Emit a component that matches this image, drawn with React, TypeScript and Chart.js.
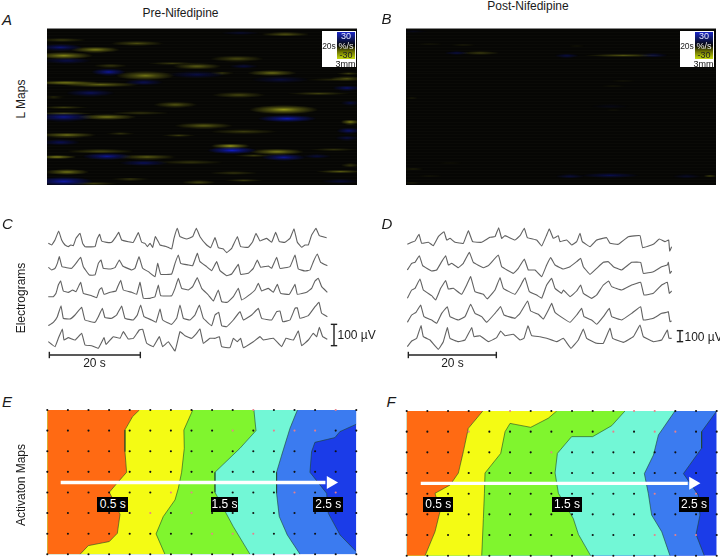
import React, { useEffect, useRef } from "react";
import { Chart, registerables } from "chart.js";

Chart.register(...registerables);

type Pair = [number, number];
// streak: centre position, half length, half height, amplitude (positive = lengthening, negative = shortening)
type Streak = [number, number, number, number, number];

const FONT = '"Liberation Sans", Arial, sans-serif';

/* ---------- L maps ---------- */
const mapAStreaks: Streak[] = [
  [855,104,50,4,.5],[185,121,50,4,.3],[410,131,55,5,.4],[285,150,50,6,.7],[190,168,60,7,.7],[710,177,55,6,.4],
  [590,200,50,6,.5],[515,191,50,3,.3],[330,198,35,4,.3],[815,220,50,6,.55],[435,228,60,10,.6],[665,220,25,3,.3],
  [195,249,70,4,.75],[300,255,80,5,.55],[1040,237,35,5,.4],[1000,240,60,3,.2],[1045,222,25,3,.3],[715,286,55,6,.35],
  [955,282,65,3,.35],[160,292,25,3,.2],[525,315,45,6,.45],[850,330,70,10,.8],[190,323,50,3,.3],[190,341,60,3,.4],
  [320,352,60,6,.6],[420,340,60,4,.25],[610,378,60,6,.5],[1050,367,20,5,.7],[730,396,70,5,.3],[200,406,60,5,.6],
  [360,402,30,3,.25],[535,407,35,3,.3],[690,439,40,5,.85],[300,455,70,4,.45],[830,456,55,6,.7],[1000,450,50,3,.25],
  [170,472,40,4,.7],[440,472,60,5,.5],[570,488,70,4,.3],[760,468,40,3,.3],[200,517,45,6,.6],[390,538,40,3,.3],
  [700,520,50,4,.25],[1020,516,50,3,.5],[1050,497,20,4,.3],[730,542,40,3,.3],[595,548,35,4,.4],[280,552,50,3,.3],
  [180,143,45,7,-.5],[325,217,35,8,-.7],[200,183,50,6,-.35],[590,225,60,8,-.3],[720,100,40,4,-.2],[430,248,40,6,-.4],
  [270,280,50,8,-.4],[840,240,60,8,-.25],[1040,265,30,5,-.5],[1050,310,20,5,-.3],[190,352,60,10,-.6],[860,357,60,8,-.8],
  [1045,393,25,6,-.5],[1040,415,25,5,-.3],[180,428,40,6,-.4],[695,452,50,7,-.95],[320,470,50,7,-.65],[850,473,45,8,-.65],
  [430,490,50,6,-.4],[190,545,60,10,-.75],[950,470,30,4,-.3],[1020,545,40,4,-.3],[730,200,30,4,-.3],
];
const mapBStreaks: Streak[] = [
  [330,160,40,4,.3],[280,135,30,2,.15],[760,167,80,3,.45],[180,133,30,2,.1],[760,245,30,2,.1],[730,258,30,2,.1],
  [125,295,15,2,.15],[130,508,25,2,.2],[1020,530,15,2,.5],[125,550,20,2,.15],[180,530,30,2,.1],[620,140,20,2,.1],
  [730,330,20,2,.08],[240,490,30,2,.08],
  [260,160,25,4,-.3],[590,168,25,4,-.35],[850,167,30,4,-.35],[720,527,60,5,-.35],[600,530,30,4,-.3],[950,530,30,4,-.2],
  [130,95,30,3,-.1],[720,320,40,4,-.1],
];

/* ---------- Electrograms (digitiser counts: 273 counts = 20 s, 64 counts = 100 uV) ---------- */
const traceC1: Pair[] = [[145,115],[155,120],[165,105],[176,78],[185,105],[195,120],[205,125],[212,120],[220,122],[228,100],[240,85],[248,115],[255,125],[285,125],[292,100],[299,88],[305,108],[320,112],[335,112],[348,95],[356,82],[365,105],[385,110],[400,112],[415,83],[425,112],[435,115],[442,125],[450,115],[458,127],[466,95],[475,110],[480,120],[500,125],[515,132],[522,100],[532,70],[540,95],[560,102],[578,95],[589,70],[600,95],[620,120],[632,128],[645,98],[655,128],[670,132],[680,143],[695,130],[712,95],[722,125],[745,127],[758,110],[768,85],[780,108],[800,100],[815,112],[827,82],[838,110],[855,112],[870,100],[882,72],[892,112],[905,127],[915,120],[925,120],[935,90],[948,70],[958,92],[980,98]];
const traceC2: Pair[] = [[145,187],[155,195],[165,190],[172,175],[178,155],[186,185],[215,190],[228,175],[242,157],[250,185],[268,210],[285,210],[295,175],[303,165],[310,190],[330,192],[345,188],[358,165],[368,183],[395,195],[405,190],[417,155],[428,190],[445,200],[465,215],[473,175],[482,208],[515,207],[525,175],[535,150],[542,175],[565,180],[578,182],[592,145],[600,170],[620,185],[635,197],[650,170],[660,197],[680,212],[695,207],[715,178],[722,208],[745,205],[760,190],[772,165],[782,187],[805,183],[815,190],[830,157],[840,190],[870,185],[885,150],[895,192],[915,198],[930,195],[940,170],[952,147],[962,172],[982,182]];
const traceC3: Pair[] = [[145,275],[160,275],[168,265],[175,240],[182,228],[190,258],[205,262],[218,255],[228,260],[242,232],[250,265],[275,272],[290,278],[298,255],[305,248],[312,268],[330,262],[348,258],[352,248],[362,226],[370,255],[395,262],[410,268],[420,232],[430,280],[450,280],[465,275],[475,240],[482,272],[515,272],[525,250],[535,220],[545,250],[565,255],[578,245],[592,218],[605,250],[625,270],[640,288],[655,255],[665,290],[682,292],[700,275],[715,250],[725,285],[745,272],[765,255],[775,235],[785,258],[805,250],[820,262],[832,238],[842,265],[868,268],[885,238],[892,268],[920,262],[935,250],[945,228],[955,220],[965,245],[982,262]];
const traceC4: Pair[] = [[145,362],[160,352],[172,335],[183,302],[190,340],[210,342],[225,330],[245,307],[255,345],[285,352],[295,335],[307,310],[315,338],[335,340],[350,330],[365,303],[375,340],[400,345],[412,330],[422,300],[432,335],[455,345],[468,352],[480,312],[488,345],[515,358],[530,340],[540,300],[550,340],[570,345],[585,330],[598,300],[610,340],[635,362],[645,330],[656,322],[665,362],[680,365],[700,345],[720,320],[730,345],[755,330],[775,310],[785,340],[815,345],[830,320],[840,318],[848,350],[870,345],[885,310],[892,308],[900,340],[925,332],[945,305],[957,292],[965,325],[982,335]];
const traceC5: Pair[] = [[145,410],[165,425],[175,400],[187,372],[192,405],[205,398],[225,405],[245,385],[255,420],[275,422],[295,430],[312,398],[318,418],[340,395],[360,400],[370,380],[385,402],[400,400],[418,375],[428,373],[440,415],[460,425],[478,395],[488,425],[505,410],[525,438],[540,380],[555,392],[575,400],[590,385],[600,372],[610,415],[630,400],[645,400],[658,395],[665,425],[690,428],[700,400],[712,410],[722,400],[730,428],[760,410],[780,395],[790,405],[820,400],[845,425],[858,400],[880,405],[895,378],[905,422],[925,405],[940,385],[950,395],[958,367],[968,395],[982,403]];
const traceD1: Pair[] = [[112,118],[125,112],[135,108],[147,88],[155,115],[175,112],[190,122],[205,95],[222,80],[230,105],[240,100],[255,112],[280,115],[295,77],[308,110],[335,112],[360,97],[375,95],[386,68],[395,100],[405,92],[435,105],[450,92],[463,70],[472,98],[500,105],[515,123],[530,90],[538,72],[550,100],[565,92],[570,110],[590,105],[605,120],[620,110],[630,85],[637,110],[660,125],[680,105],[710,98],[720,115],[745,118],[775,95],[810,92],[818,128],[850,118],[868,102],[885,110],[896,105],[899,138],[905,125]];
const traceD2: Pair[] = [[112,195],[125,175],[135,172],[148,152],[158,182],[185,198],[200,195],[215,170],[227,152],[235,180],[245,175],[265,188],[280,175],[298,142],[310,172],[340,188],[355,182],[385,150],[395,185],[430,205],[445,190],[463,162],[475,195],[495,195],[515,215],[530,180],[542,158],[555,180],[580,192],[600,185],[620,170],[632,160],[640,185],[660,208],[680,190],[700,172],[715,170],[730,185],[755,195],[785,172],[812,172],[820,205],[850,200],[875,185],[892,180],[895,172],[900,205],[905,198]];
const traceD3: Pair[] = [[112,280],[125,255],[135,250],[150,222],[160,255],[185,272],[197,285],[212,250],[227,227],[235,252],[250,250],[275,268],[290,240],[302,215],[315,260],[340,268],[352,282],[375,255],[390,218],[400,250],[435,268],[450,245],[465,218],[478,260],[500,270],[515,280],[530,240],[545,220],[555,250],[575,265],[580,255],[600,275],[620,258],[632,240],[640,265],[665,280],[680,270],[700,240],[716,228],[725,245],[755,255],[785,240],[812,232],[822,270],[850,265],[875,240],[892,232],[898,265],[905,258]];
const traceD4: Pair[] = [[112,352],[125,330],[138,322],[152,300],[162,335],[185,345],[200,355],[215,325],[232,305],[240,335],[265,345],[285,335],[302,298],[315,325],[335,335],[350,352],[375,325],[392,305],[402,330],[435,340],[450,325],[473,288],[482,318],[505,328],[520,342],[535,315],[545,295],[555,322],[580,340],[600,352],[620,330],[635,310],[642,335],[665,345],[680,358],[700,335],[718,310],[725,335],[755,345],[785,325],[812,305],[820,345],[850,340],[875,325],[890,322],[895,320],[900,350],[905,348]];
const traceD5: Pair[] = [[112,425],[125,408],[140,400],[153,362],[160,395],[180,405],[205,433],[220,410],[232,368],[240,400],[265,410],[285,405],[305,368],[312,395],[330,392],[355,410],[380,398],[392,378],[405,392],[430,388],[450,405],[462,400],[474,362],[485,392],[510,395],[530,400],[560,410],[580,400],[603,430],[625,405],[640,372],[650,400],[680,415],[700,415],[720,370],[728,400],[760,412],[790,395],[810,360],[820,395],[850,410],[875,405],[892,375],[897,400],[905,400]];
const timeBarC: Pair[] = [[148,450],[421,450]];
const voltBarC: Pair[] = [[1002,358],[1002,422]];
const timeBarD: Pair[] = [[115,450],[379,450]];
const voltBarD: Pair[] = [[930,377],[930,410]];

/* ---------- Activation maps: contour positions in electrode columns (0-15) and rows (0-7) ---------- */
const contourRowsE = [
  [0,.32,.97,2.02,3.02,3.57,3.99,4.52,5.06,5.98,6.38,6.58,7],
  [0,.97,1.86,3.02,3.8,4.36,5.17,6.01,7],
  [0,1.0,1.86,3.02,3.99,4.6,5.66,7],
  [0,.89,2.18,3.02,4.04,5.17,6.06,7],
  [.69,1.05,1.34,1.57,2.02,3.02,4.04,5.01,6.06,6.87],
];
const contourColsE = [
  [4.47,4.14,3.77,3.77,3.85,3.37,3.01,3.28,3.53,3.40,3.01,1.99,1.59],
  [7.06,6.63,6.65,6.52,6.36,6.2,5.63,5.28,5.71],
  [10.03,10.13,9.35,8.14,8.14,8.46,9.03,9.84],
  [12.14,11.78,11.38,11.13,11.13,11.26,11.65,12.27],
  [15,14.2,13.96,12.99,12.83,12.75,13.56,13.64,14.21,15],
];
const contourRowsF = [
  [0,.84,1.97,3.0,3.58,3.98,4.87,5.84,7],
  [0,.35,.79,.6,1.0,2.05,3.0,3.98,5.2,7],
  [0,.71,1.24,1.24,2.05,3,3.98,5.2,5.97,7],
  [0,1.16,2.13,3.03,3.98,5.03,5.84,7],
  [0,1.0,1.8,3.03,4.06,5.03,5.97,7],
];
const contourColsF = [
  [3.68,2.98,2.74,2.5,2.1,1.37,1.61,1.37,.89],
  [7.26,6.85,6.0,5.0,4.76,4.55,3.79,3.76,3.71,3.63],
  [10.56,9.92,9.0,7.98,7.29,7.18,7.34,8.06,8.31,8.9],
  [12.98,12.18,11.94,11.5,11.69,11.85,12.34,12.74],
  [15,14.27,14.27,13.39,14.11,14.19,14,14.4],
];
// leftmost isochrone band first
const bandColors = ["#ff6a13", "#f4fb14", "#80f52e", "#72f7d6", "#3b7bf0", "#1b3ce8"];
const pinkE: Pair[] = [[9,1],[11,1],[12,1],[13,1],[10,0],[14,0],[12,4],[14,4],[6,4],[7,4],[5,5],[7,5],[8,6],[9,6],[10,6]];
const pinkF: Pair[] = [[3,1],[10,1],[12,1],[13,1],[7,2],[12,6],[13,6],[14,6],[12,4],[14,4],[11,0],[12,0],[5,0]];
const arrowE: Pair[] = [[.65,3.52],[13.5,3.52]];
const arrowF: Pair[] = [[.68,3.5],[13.6,3.5]];
const headE: Pair = [13.75,3.52];
const headF: Pair = [13.85,3.5];

const toPts = (p: Pair[]) => p.map(([x, y]) => ({ x, y }));

/* ---------- Chart factories ---------- */
function baseOptions(xMin: number, xMax: number, yMin: number, yMax: number, padding: any = 0): any {
  return {
    responsive: false,
    maintainAspectRatio: false,
    animation: false,
    layout: { padding, autoPadding: false },
    plugins: { legend: { display: false }, tooltip: { enabled: false } },
    scales: {
      x: { type: "linear", min: xMin, max: xMax, display: false },
      y: { type: "linear", min: yMin, max: yMax, reverse: true, display: false },
    },
  };
}

function streakSprite(wPx: number, hPx: number, amp: number) {
  const c = document.createElement("canvas");
  c.width = Math.max(2, Math.round(wPx * 2));
  c.height = Math.max(2, Math.round(hPx * 2));
  const g = c.getContext("2d")!;
  g.translate(c.width / 2, c.height / 2);
  g.scale(c.width / 2, c.height / 2);
  const rgb = amp > 0 ? "175,178,32" : "18,30,205";
  const a = Math.min(1, Math.abs(amp) * 1.1);
  const grad = g.createRadialGradient(0, 0, 0, 0, 0, 1);
  grad.addColorStop(0, `rgba(${rgb},${a})`);
  grad.addColorStop(0.4, `rgba(${rgb},${a * 0.5})`);
  grad.addColorStop(1, `rgba(${rgb},0)`);
  g.fillStyle = grad;
  g.beginPath();
  g.arc(0, 0, 1, 0, Math.PI * 2);
  g.fill();
  return c;
}

function mapConfig(streaks: Streak[], xMin: number, xMax: number): any {
  const options = baseOptions(xMin, xMax, 88, 556);
  options.scales.y.display = true;
  options.scales.y.ticks = { display: false, stepSize: 9 };
  options.scales.y.border = { display: false };
  options.scales.y.grid = { color: "rgba(30,30,26,0.16)", lineWidth: 1, drawTicks: false };
  options.scales.y.afterFit = (s: any) => { s.width = 0; };
  return {
    type: "scatter",
    data: {
      datasets: [{
        data: streaks.map((s) => ({ x: s[0], y: s[1] })),
        pointRadius: 3,
        pointStyle: (ctx: any) => {
          const s = streaks[ctx.dataIndex];
          if (!s) return "circle";
          const sx = ctx.chart.scales.x, sy = ctx.chart.scales.y;
          const w = Math.abs(sx.getPixelForValue(s[0] + s[2]) - sx.getPixelForValue(s[0]));
          const h = Math.abs(sy.getPixelForValue(s[1] + s[3]) - sy.getPixelForValue(s[1]));
          return streakSprite(w * 1.5, h * 1.4, s[4]);
        },
      }],
    },
    options,
    plugins: [{
      id: "mapBg",
      beforeDraw(chart: any) {
        const { ctx, width, height } = chart;
        ctx.save();
        ctx.fillStyle = "#060604";
        ctx.fillRect(0, 0, width, height);
        ctx.restore();
      },
    }],
  };
}

function traceConfig(traces: Pair[][], timeBar: Pair[], voltBar: Pair[]): any {
  const bar = (data: Pair[], rotation: number) => ({
    data: toPts(data),
    borderColor: "#222",
    borderWidth: 1.4,
    pointStyle: "line",
    pointRotation: rotation,
    pointRadius: 3.2,
    pointBorderColor: "#222",
    pointBorderWidth: 1.4,
    tension: 0,
  });
  return {
    type: "line",
    data: {
      datasets: [
        ...traces.map((t) => ({
          data: toPts(t),
          borderColor: "rgba(80,80,80,0.9)",
          borderWidth: 1.1,
          pointRadius: 0,
          tension: 0.08,
          fill: false,
        })),
        bar(timeBar, 90),
        bar(voltBar, 0),
      ],
    },
    options: baseOptions(0, 1110, 0, 510),
  };
}

function activationConfig(rows: number[][], cols: number[][], pink: Pair[], arrow: Pair[], head: Pair, padding: any): any {
  const isPink = (c: number, r: number) => pink.some((p) => p[0] === c && p[1] === r);
  const dots: { x: number; y: number }[] = [];
  const pinks: { x: number; y: number }[] = [];
  for (let c = 0; c <= 15; c++) {
    for (let r = 0; r <= 7; r++) {
      (isPink(c, r) ? pinks : dots).push({ x: c, y: r });
    }
  }
  const region = (i: number) => {
    const pts = cols[i].map((c, k) => ({ x: c, y: rows[i][k] }));
    const head0 = pts[0].y > 0 ? [{ x: 15, y: 0 }] : [];
    const tail = pts[pts.length - 1].y < 7 ? [{ x: 15, y: 7 }] : [];
    return [{ x: 0, y: 7 }, { x: 0, y: 0 }, ...head0, ...pts, ...tail];
  };
  const fillBand = (data: any[], color: string, order: number) => ({
    data, fill: "shape", backgroundColor: color, borderWidth: 0, borderColor: "transparent",
    pointRadius: 0, tension: 0.0001, order,
  });
  const datasets: any[] = [
    fillBand([{ x: 0, y: 7 }, { x: 0, y: 0 }, { x: 15, y: 0 }, { x: 15, y: 7 }], bandColors[5], 100),
  ];
  for (let i = 4; i >= 0; i--) {
    datasets.push(fillBand(region(i), bandColors[i], 50 + i));
    datasets.push({
      data: cols[i].map((c, k) => ({ x: c, y: rows[i][k] })),
      borderColor: "rgba(30,70,40,0.75)", borderWidth: 0.8, pointRadius: 0, tension: 0, fill: false, order: 20,
    });
  }
  datasets.push({ data: dots, showLine: false, pointRadius: 1.05, pointBorderWidth: 0, pointBackgroundColor: "#111", clip: false, order: 10 });
  datasets.push({ data: pinks, showLine: false, pointRadius: 1.05, pointBorderWidth: 0, pointBackgroundColor: "#e87f8a", clip: false, order: 10 });
  datasets.push({ data: toPts(arrow), borderColor: "#ffffff", borderWidth: 3.4, pointRadius: 0, tension: 0, order: 2 });
  datasets.push({
    data: [{ x: head[0], y: head[1] }], showLine: false, pointStyle: "triangle", pointRotation: 90,
    pointRadius: 7.5, pointBackgroundColor: "#ffffff", pointBorderColor: "#ffffff", pointBorderWidth: 0, order: 1,
  });
  const options = baseOptions(0, 15, 0, 7, padding);
  options.indexAxis = "y";
  return { type: "line", data: { datasets }, options };
}

/* ---------- Components ---------- */
function Panel({ left, top, width, height, make, style }: any) {
  const ref = useRef<HTMLCanvasElement>(null);
  useEffect(() => {
    const chart = new Chart(ref.current!, make());
    return () => chart.destroy();
  }, []);
  return (
    <canvas
      ref={ref}
      width={width}
      height={height}
      style={{ position: "absolute", left, top, width, height, display: "block", ...style }}
    />
  );
}

function Txt({ x, y, size = 12, italic, rotate, color = "#1a1a1a", anchor = "center", children, weight }: any) {
  const tx = anchor === "center" ? "-50%" : "0";
  return (
    <div
      style={{
        position: "absolute", left: x, top: y, fontFamily: FONT, fontSize: size, color,
        fontStyle: italic ? "italic" : "normal", fontWeight: weight, whiteSpace: "nowrap", lineHeight: 1,
        transform: `translate(${tx},-50%)${rotate ? ` rotate(${rotate}deg)` : ""}`,
      }}
    >
      {children}
    </div>
  );
}

function Tag({ x0, x1, y0, y1, children }: any) {
  return (
    <div
      style={{
        position: "absolute", left: x0, top: y0, width: x1 - x0, height: y1 - y0, background: "#000", color: "#fff",
        fontFamily: FONT, fontSize: 12, lineHeight: `${y1 - y0}px`, textAlign: "center", whiteSpace: "nowrap",
      }}
    >
      {children}
    </div>
  );
}

function Inset({ x, y }: { x: number; y: number }) {
  return (
    <div style={{ position: "absolute", left: x, top: y, width: 34, height: 36, background: "#fff" }}>
      <div
        style={{
          position: "absolute", left: 15.5, top: 1, width: 18, height: 27,
          background: "linear-gradient(#1a26c8 0%, #101a70 22%, #050505 50%, #6a7000 72%, #c6dc10 100%)",
        }}
      />
      <Txt x={24.5} y={5} size={9} color="#e8e8ff">30</Txt>
      <Txt x={24.5} y={15} size={9} color="#eee">%/s</Txt>
      <Txt x={24.5} y={24} size={9} color="#222">-30</Txt>
      <Txt x={7.5} y={15} size={8.5} color="#222">20s</Txt>
      <Txt x={24} y={32.5} size={9} color="#111">3mm</Txt>
    </div>
  );
}

export default function App() {
  useEffect(() => {
    document.body.style.margin = "0";
  }, []);
  return (
    <div style={{ position: "absolute", left: 0, top: 0, width: 720, height: 557, background: "#fff", overflow: "hidden" }}>
      <Panel left={47} top={29} width={310} height={156} style={{ borderTop: "1px solid #888", boxSizing: "content-box", marginTop: -1 }}
        make={() => mapConfig(mapAStreaks, 140, 1070)} />
      <Panel left={406} top={29} width={310} height={156} style={{ borderTop: "1px solid #888", boxSizing: "content-box", marginTop: -1 }}
        make={() => mapConfig(mapBStreaks, 108, 1038)} />
      <Panel left={0} top={205} width={370} height={170} make={() => traceConfig([traceC1, traceC2, traceC3, traceC4, traceC5], timeBarC, voltBarC)} />
      <Panel left={370} top={205} width={350} height={170} make={() => {
        const c = traceConfig([traceD1, traceD2, traceD3, traceD4, traceD5], timeBarD, voltBarD);
        c.options.scales.x.max = 1050;
        return c;
      }} />
      <Panel left={43} top={406} width={318} height={151}
        make={() => activationConfig(contourRowsE, contourColsE, pinkE, arrowE, headE, { left: 4.3, top: 4, right: 4.7, bottom: 2.7 })} />
      <Panel left={403} top={407} width={317} height={150}
        make={() => activationConfig(contourRowsF, contourColsF, pinkF, arrowF, headF, { left: 3.7, top: 4, right: 3.3, bottom: 1.3 })} />

      <Inset x={321.5} y={31} />
      <Inset x={679.5} y={31} />

      <Txt x={180.5} y={12.5}>Pre-Nifedipine</Txt>
      <Txt x={528} y={5.5}>Post-Nifedipine</Txt>
      <Txt x={2} y={18.5} size={15} italic anchor="left">A</Txt>
      <Txt x={381.5} y={18} size={15} italic anchor="left">B</Txt>
      <Txt x={2} y={223} size={15} italic anchor="left">C</Txt>
      <Txt x={381.5} y={223} size={15} italic anchor="left">D</Txt>
      <Txt x={2} y={401} size={15} italic anchor="left">E</Txt>
      <Txt x={386.5} y={401} size={15} italic anchor="left">F</Txt>
      <Txt x={21} y={99} rotate={-90}>L Maps</Txt>
      <Txt x={21} y={298} rotate={-90}>Electrograms</Txt>
      <Txt x={21} y={485} rotate={-90}>Activaton Maps</Txt>
      <Txt x={94.5} y={362.5}>20 s</Txt>
      <Txt x={452.5} y={362.5}>20 s</Txt>
      <Txt x={337.5} y={335} anchor="left">100 µV</Txt>
      <Txt x={684.5} y={336.5} anchor="left">100 µV</Txt>

      <Tag x0={97.3} x1={128.3} y0={496.7} y1={511.7}>0.5 s</Tag>
      <Tag x0={210.7} x1={238.3} y0={496.7} y1={511.7}>1.5 s</Tag>
      <Tag x0={313.3} x1={343.3} y0={496.7} y1={511.7}>2.5 s</Tag>
      <Tag x0={423.3} x1={453.3} y0={497.3} y1={511.7}>0.5 s</Tag>
      <Tag x0={552.3} x1={581.7} y0={497.3} y1={511.7}>1.5 s</Tag>
      <Tag x0={679} x1={709} y0={497.3} y1={511.7}>2.5 s</Tag>
    </div>
  );
}
